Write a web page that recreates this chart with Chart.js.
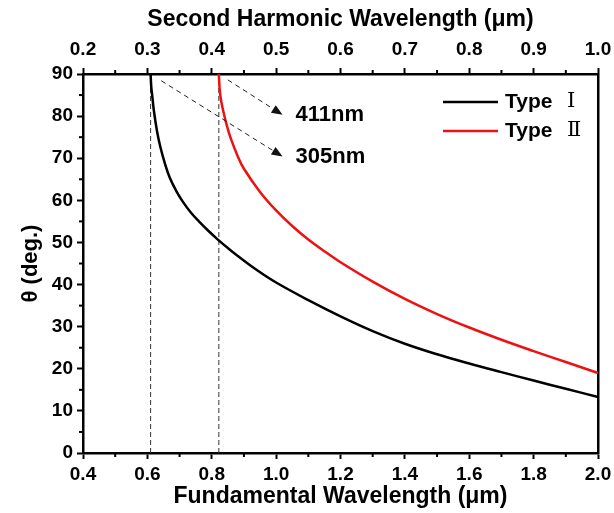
<!DOCTYPE html>
<html>
<head>
<meta charset="utf-8">
<script src="https://cdn.jsdelivr.net/npm/chart.js@4.4.1/dist/chart.umd.min.js"></script>
<style>
html,body{margin:0;padding:0;background:#fff;}
#wrap{width:614px;height:513px;}
</style>
</head>
<body>
<div id="wrap"><canvas id="c" width="614" height="513"></canvas></div>
<script>
// ---- data ----
const bottomTicks = [0.4, 0.6, 0.8, 1.0, 1.2, 1.4, 1.6, 1.8, 2.0];
const topTicks = [0.2, 0.3, 0.4, 0.5, 0.6, 0.7, 0.8, 0.9, 1.0];
const yTicks = [0, 10, 20, 30, 40, 50, 60, 70, 80, 90];

const typeI_x = [0.61, 0.612, 0.615, 0.62, 0.63, 0.64, 0.655, 0.67, 0.69, 0.71, 0.735, 0.76, 0.79, 0.82, 0.85, 0.88, 0.94, 1.00, 1.10, 1.20, 1.30, 1.40, 1.50, 1.60, 1.70, 1.80, 1.90, 2.00];
const typeI_theta = [90, 87.0, 84.9, 81.4, 76.4, 72.8, 68.6, 65.3, 62.2, 59.7, 57.1, 55.0, 52.72, 50.62, 48.67, 46.84, 43.45, 40.48, 36.3, 32.45, 28.95, 25.95, 23.45, 21.25, 19.2, 17.2, 15.25, 13.3];

const typeII_x = [0.822, 0.825, 0.83, 0.84, 0.85, 0.86, 0.88, 0.90, 0.95, 1.00, 1.05, 1.10, 1.15, 1.20, 1.30, 1.40, 1.50, 1.60, 1.70, 1.80, 1.90, 2.00];
const typeII_theta = [90, 86.0, 83.3, 79.8, 76.9, 74.5, 70.6, 67.5, 62.0, 57.6, 53.9, 50.7, 47.9, 45.3, 40.7, 36.6, 33.0, 29.8, 26.9, 24.2, 21.6, 19.0];

const seriesNames = ['Type', 'Type'];
const seriesNumerals = ['\u2160', '\u2161'];
const seriesColors = ['#000000', '#ee1111'];

const cutoffX = [0.61, 0.822];
const cutoffLabels = ['305nm', '411nm'];
// arrows (data coordinates): start -> end
const arrowStartX = [0.643, 0.850];
const arrowStartY = [88.4, 88.6];
const arrowEndX = [1.02, 1.02];
const arrowEndY = [70.4, 80.3];

const toPts = (xs, ys) => xs.map((x, i) => ({x: x, y: ys[i]}));

const FONT = "'Liberation Sans', Arial, sans-serif";

const extras = {
  id: 'extras',
  afterDraw(chart) {
    const ctx = chart.ctx;
    const xs = chart.scales.x, x2 = chart.scales.x2, ys = chart.scales.y;
    const ca = chart.chartArea;
    ctx.save();
    // minor ticks
    ctx.strokeStyle = '#000';
    ctx.lineWidth = 2;
    const minor = (scale, vals, dir) => {
      for (let i = 0; i < vals.length - 1; i++) {
        const v = (vals[i] + vals[i + 1]) / 2;
        const p = scale.getPixelForValue(v);
        ctx.beginPath();
        if (dir === 'bottom') { ctx.moveTo(p, ca.bottom); ctx.lineTo(p, ca.bottom + 4); }
        if (dir === 'top') { ctx.moveTo(p, ca.top); ctx.lineTo(p, ca.top - 4); }
        if (dir === 'left') { ctx.moveTo(ca.left, p); ctx.lineTo(ca.left - 4, p); }
        ctx.stroke();
      }
    };
    minor(xs, bottomTicks, 'bottom');
    minor(x2, topTicks, 'top');
    minor(ys, yTicks, 'left');

    // arrows
    ctx.strokeStyle = '#222';
    ctx.fillStyle = '#111';
    ctx.lineWidth = 1;
    for (let i = 0; i < arrowStartX.length; i++) {
      const sx = xs.getPixelForValue(arrowStartX[i]), sy = ys.getPixelForValue(arrowStartY[i]);
      const ex = xs.getPixelForValue(arrowEndX[i]), ey = ys.getPixelForValue(arrowEndY[i]);
      const ang = Math.atan2(ey - sy, ex - sx);
      const hl = 11, hw = 4.5;
      const bx = ex - hl * Math.cos(ang), by = ey - hl * Math.sin(ang);
      ctx.setLineDash([5, 4]);
      ctx.beginPath(); ctx.moveTo(sx, sy); ctx.lineTo(bx, by); ctx.stroke();
      ctx.setLineDash([]);
      ctx.beginPath();
      ctx.moveTo(ex, ey);
      ctx.lineTo(bx - hw * Math.sin(ang), by + hw * Math.cos(ang));
      ctx.lineTo(bx + hw * Math.sin(ang), by - hw * Math.cos(ang));
      ctx.closePath(); ctx.fill();
    }
    // cutoff labels
    ctx.fillStyle = '#000';
    ctx.font = 'bold 22px ' + FONT;
    ctx.textAlign = 'left';
    ctx.textBaseline = 'middle';
    for (let i = 0; i < cutoffLabels.length; i++) {
      const px = xs.getPixelForValue(arrowEndX[i]) + 13;
      const py = ys.getPixelForValue(arrowEndY[i]);
      ctx.fillText(cutoffLabels[i], px, py);
    }
    // legend
    for (let i = 0; i < seriesNames.length; i++) {
      const ly = ca.top + 28 + i * 29;
      ctx.strokeStyle = seriesColors[i];
      ctx.lineWidth = 2.5;
      ctx.beginPath(); ctx.moveTo(ca.right - 155, ly); ctx.lineTo(ca.right - 100, ly); ctx.stroke();
      ctx.fillStyle = '#000';
      ctx.font = 'bold 21px ' + FONT;
      ctx.fillText(seriesNames[i], ca.right - 93, ly);
      ctx.font = '21px "DejaVu Serif", "Liberation Serif", serif';
      ctx.fillText(seriesNumerals[i], ca.right - 31, ly);
    }
    ctx.restore();
  }
};

const tickFont = {family: FONT, size: 19, weight: 'bold'};
const titleFont = {family: FONT, size: 23, weight: 'bold'};
const axisGrid = {drawOnChartArea: false, drawTicks: true, tickLength: 6, tickWidth: 2, tickColor: '#000', color: '#000'};
const axisBorder = {display: true, color: '#000', width: 2.5};
const noPadX = s => { s.paddingLeft = 0; s.paddingRight = 0; };
const noPadY = s => { s.paddingTop = 0; s.paddingBottom = 0; };

new Chart(document.getElementById('c'), {
  type: 'line',
  data: {
    datasets: [
      {label: 'Type I', data: toPts(typeI_x, typeI_theta), borderColor: seriesColors[0], borderWidth: 2.5, pointRadius: 0, tension: 0.4, xAxisID: 'x', yAxisID: 'y'},
      {label: 'Type II', data: toPts(typeII_x, typeII_theta), borderColor: seriesColors[1], borderWidth: 2.5, pointRadius: 0, tension: 0.4, xAxisID: 'x', yAxisID: 'y'},
      {label: '305nm cutoff', data: toPts([cutoffX[0], cutoffX[0]], [yTicks[0], yTicks[yTicks.length - 1]]), borderColor: '#333', borderWidth: 1, borderDash: [5, 3], pointRadius: 0, tension: 0, xAxisID: 'x', yAxisID: 'y'},
      {label: '411nm cutoff', data: toPts([cutoffX[1], cutoffX[1]], [yTicks[0], yTicks[yTicks.length - 1]]), borderColor: '#333', borderWidth: 1, borderDash: [5, 3], pointRadius: 0, tension: 0, xAxisID: 'x', yAxisID: 'y'}
    ]
  },
  options: {
    responsive: false,
    animation: false,
    clip: false,
    layout: {padding: 0},
    plugins: {legend: {display: false}, tooltip: {enabled: false}},
    scales: {
      x: {
        type: 'linear', position: 'bottom',
        min: bottomTicks[0], max: bottomTicks[bottomTicks.length - 1],
        afterBuildTicks: s => { s.ticks = bottomTicks.map(v => ({value: v})); },
        ticks: {font: tickFont, color: '#000', padding: 4, maxRotation: 0, callback: v => Number(v).toFixed(1)},
        grid: axisGrid, border: axisBorder,
        title: {display: true, text: 'Fundamental Wavelength (\u03bcm)', font: titleFont, color: '#000', padding: {top: 0, bottom: 3}},
        afterFit: s => { s.height = 60; noPadX(s); }
      },
      x2: {
        type: 'linear', position: 'top',
        min: topTicks[0], max: topTicks[topTicks.length - 1],
        afterBuildTicks: s => { s.ticks = topTicks.map(v => ({value: v})); },
        ticks: {font: tickFont, color: '#000', padding: 7, maxRotation: 0, callback: v => Number(v).toFixed(1)},
        grid: axisGrid, border: axisBorder,
        title: {display: true, text: 'Second Harmonic Wavelength (\u03bcm)', font: titleFont, color: '#000', padding: {top: 6, bottom: 0}},
        afterFit: s => { s.height = 74; noPadX(s); }
      },
      y: {
        type: 'linear', position: 'left',
        min: yTicks[0], max: yTicks[yTicks.length - 1],
        afterBuildTicks: s => { s.ticks = yTicks.map(v => ({value: v})); },
        ticks: {font: tickFont, color: '#000', padding: 4},
        grid: axisGrid, border: axisBorder,
        title: {display: true, text: '\u03b8 (deg.)', font: {family: FONT, size: 22, weight: 'bold'}, color: '#000', padding: {top: 18, bottom: 0}},
        afterFit: s => { s.width = 83; noPadY(s); }
      },
      y2: {
        type: 'linear', position: 'right',
        min: yTicks[0], max: yTicks[yTicks.length - 1],
        ticks: {display: false},
        grid: {display: false, drawTicks: false},
        border: axisBorder,
        afterFit: s => { s.width = 16; noPadY(s); }
      }
    }
  },
  plugins: [extras]
});
</script>
</body>
</html>
